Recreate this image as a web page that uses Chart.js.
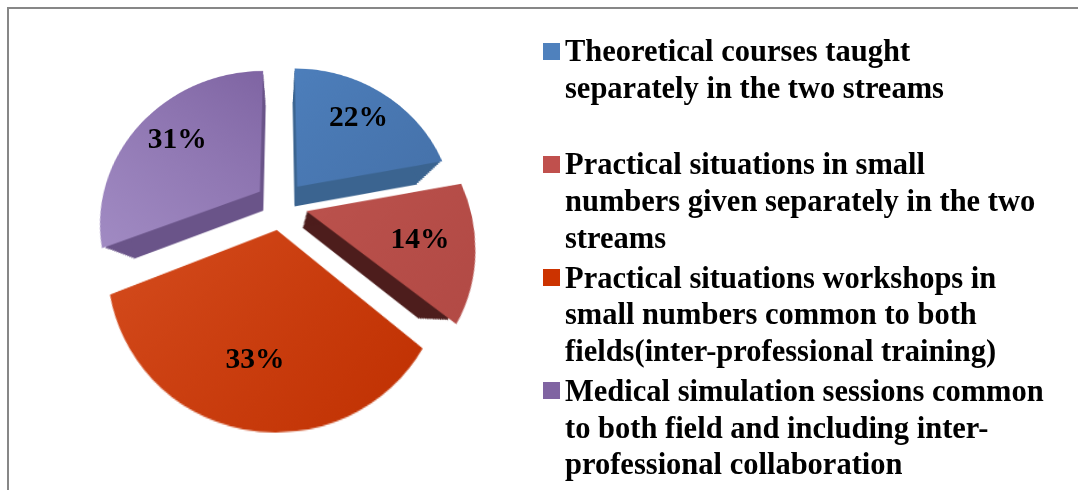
<!DOCTYPE html>
<html>
<head>
<meta charset="utf-8">
<script src="https://cdn.jsdelivr.net/npm/chart.js@4.4.1/dist/chart.umd.min.js"></script>
<style>
  html, body { margin: 0; padding: 0; background: #fff; }
  #frame {
    position: relative; width: 1078px; height: 490px; overflow: hidden;
    font-family: "Liberation Serif", "Times New Roman", serif; font-weight: bold; color: #000;
  }
  #frame:before {
    content: ''; position: absolute; left: 7px; top: 7px; right: -4px; bottom: -4px;
    border: 2px solid #878787;
  }
  #pie {
    position: absolute; left: 51px; top: -25px;
    transform-origin: 230px 230px;
    transform: perspective(274px) rotateX(20deg);
  }
  .pct { position: absolute; font-size: 29.5px; line-height: 1; transform: translate(-50%, -50%); white-space: nowrap; }
  #legend { position: absolute; left: 543px; top: 33px; }
  .item { position: relative; height: 113.3px; padding-left: 22px; font-size: 30.5px; line-height: 36.7px; white-space: nowrap; }
  .item i { position: absolute; left: 0; top: 9.5px; width: 17px; height: 17px; }
</style>
</head>
<body>
<div id="frame">
  <canvas id="pie" width="460" height="460"></canvas>
  <div id="labels"></div>
  <div id="legend"></div>
</div>
<script>
const categories = [
  ['Theoretical courses taught', 'separately in the two streams'],
  ['Practical situations in small', 'numbers given separately in the two', 'streams'],
  ['Practical situations workshops in', 'small numbers common to both', 'fields(inter-professional training)'],
  ['Medical simulation sessions common', 'to both field and including inter-', 'professional collaboration']
];
const values = [22, 14, 33, 31];

const legendColors = ['#4f81bd', '#c0504d', '#cc3300', '#8064a2'];
const lightColors = ['#4d7fbc', '#ba514c', '#d64e20', '#a28cc4'];
const darkColors = ['#4571a9', '#b04843', '#bf2f00', '#7c61a0'];
const sideColors = ['#3b6490', '#4d1d1c', '#9a2600', '#6a5489'];
const gradDir = [[0.5, 0.1, 0.9, 0.45], [0.6, 0.4, 0.95, 0.7], [0.15, 0.45, 0.7, 0.95], [0.1, 0.6, 0.5, 0.1]];

// 3d look: tilt of the pie plane and depth of the slices
const TILT = 20 * Math.PI / 180;
const PERSP = 274;
const APEX = [281, 205];
const DEPTH_SCALE = 0.82;
const DEPTH_SHIFT = 18;
const LABEL_R = 0.71;

const sliceWalls = {
  id: 'sliceWalls',
  beforeDatasetsDraw(chart) {
    const ctx = chart.ctx;
    chart.getDatasetMeta(0).data.forEach((arc, i) => {
      const { x, y, startAngle, endAngle, outerRadius } = arc.getProps(['x', 'y', 'startAngle', 'endAngle', 'outerRadius']);
      const mid = (startAngle + endAngle) / 2;
      const d = arc.options.offset / 4;
      const cx = x + Math.cos(mid) * d, cy = y + Math.sin(mid) * d;
      ctx.fillStyle = sideColors[i];
      for (let s = 1; s <= 14; s++) {
        const t = s / 14;
        const k = 1 - t * (1 - DEPTH_SCALE);
        ctx.save();
        ctx.translate(x, y + t * DEPTH_SHIFT);
        ctx.scale(k, k);
        ctx.translate(-x, -y);
        ctx.beginPath();
        ctx.moveTo(cx, cy);
        ctx.arc(cx, cy, outerRadius, startAngle, endAngle);
        ctx.closePath();
        ctx.fill();
        ctx.restore();
      }
    });
  }
};

const fill = (c) => {
  const i = c.dataIndex;
  const area = c.chart.chartArea;
  if (!area) return legendColors[i];
  const [a, b, e, f] = gradDir[i];
  const w = area.right - area.left, h = area.bottom - area.top;
  const g = c.chart.ctx.createLinearGradient(area.left + a * w, area.top + b * h, area.left + e * w, area.top + f * h);
  g.addColorStop(0, lightColors[i]);
  g.addColorStop(1, darkColors[i]);
  return g;
};

const chart = new Chart(document.getElementById('pie'), {
  type: 'pie',
  data: {
    labels: categories,
    datasets: [{ data: values, backgroundColor: fill, borderWidth: 0, offset: 104 }]
  },
  options: {
    responsive: false,
    animation: false,
    events: [],
    radius: 157,
    layout: { padding: 0 },
    plugins: { legend: { display: false }, tooltip: { enabled: false } }
  },
  plugins: [sliceWalls]
});

// percentage labels, placed where the tilted slices end up on the page
const project = (px, py, cx, cy) => {
  const dx = px - cx, dy = py - cy;
  const k = PERSP / (PERSP - dy * Math.sin(TILT));
  return [APEX[0] + dx * k, APEX[1] + dy * Math.cos(TILT) * k];
};

const labelBox = document.getElementById('labels');
chart.getDatasetMeta(0).data.forEach((arc, i) => {
  const { x, y, startAngle, endAngle, outerRadius } = arc.getProps(['x', 'y', 'startAngle', 'endAngle', 'outerRadius']);
  const mid = (startAngle + endAngle) / 2;
  const r = arc.options.offset / 4 + outerRadius * LABEL_R;
  const [lx, ly] = project(x + Math.cos(mid) * r, y + Math.sin(mid) * r, x, y);
  const el = document.createElement('div');
  el.className = 'pct';
  el.style.left = lx + 'px';
  el.style.top = ly + 'px';
  el.textContent = values[i] + '%';
  labelBox.appendChild(el);
});

const legend = document.getElementById('legend');
chart.data.labels.forEach((lines, i) => {
  const item = document.createElement('div');
  item.className = 'item';
  const sw = document.createElement('i');
  sw.style.background = legendColors[i];
  item.appendChild(sw);
  lines.forEach((line, j) => {
    if (j) item.appendChild(document.createElement('br'));
    item.appendChild(document.createTextNode(line));
  });
  legend.appendChild(item);
});
</script>
</body>
</html>
